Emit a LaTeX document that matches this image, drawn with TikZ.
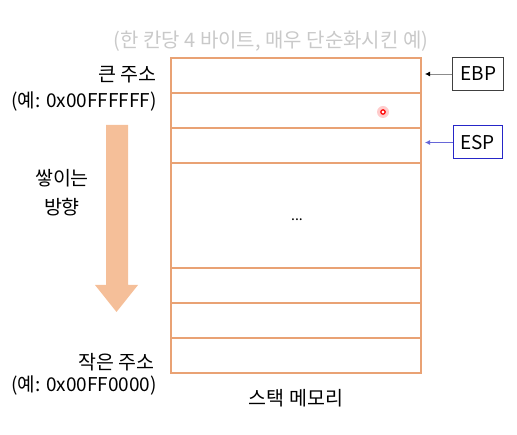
\documentclass[tikz,border=0pt]{standalone}
\usepackage{fontspec}
\setmainfont{Noto Sans CJK KR}
\usepackage{xcolor}
\usetikzlibrary{positioning,arrows.meta}
\definecolor{stk}{HTML}{E9A274}
\definecolor{arw}{HTML}{F5BF99}
\definecolor{ttl}{HTML}{C9C9C9}
\definecolor{espc}{HTML}{2626C8}
\tikzset{
    RC1/.style ={rectangle,minimum width = 250pt, minimum height =35pt, draw=stk, line width=1.4pt, outer sep=0pt, inner sep=0pt},
    RC2/.style ={RC1, minimum height = 105pt},
    RB1/.style ={rectangle,minimum width = 51pt, minimum height =33pt, draw=black!75, line width=1pt, font=\fontsize{19}{22}\selectfont, inner sep=0pt},
    RB2/.style ={RB1, draw=espc},
    TX1/.style ={font=\fontsize{19.5}{22}\selectfont, inner sep=0pt},
    TX2/.style ={TX1, font=\fontsize{19}{22}\selectfont, anchor=east}
}

\begin{document}
\begin{tikzpicture}[x=1pt,y=-1pt]
        \useasboundingbox (0,0) rectangle (517,435);
        \node[TX1, text=ttl, font=\fontsize{20}{22}\selectfont] (title) at (271,41) {(한 칸당 4 바이트, 매우 단순화시킨 예)};
        % stack cells
        \node[RC1] (c1) at (296,75.5) {};
        \node[RC1, below=0pt of c1] (c2) {};
        \node[RC1, below=0pt of c2] (c3) {};
        \node[RC2, below=0pt of c3] (c4) {};
        \node[RC1, below=0pt of c4] (c5) {};
        \node[RC1, below=0pt of c5] (c6) {};
        \node[RC1, below=0pt of c6] (c7) {};
        \node[TX1, font=\fontsize{14}{16}\selectfont] (dots) at (297,220) {...};
        \node[TX1, below=16pt of c7] (stack) {스택 메모리};
        % registers
        \node[RB1] (ebp) at (478.4,74) {EBP};
        \node[RB2, minimum width=49pt] (esp) at (477.5,142.5) {ESP};
        \draw[-{Latex[length=5pt,width=5pt,color=black]}, black!45, thick, shorten >=4pt] (ebp.west) -- (ebp.west -| c1.east);
        \draw[-{Latex[length=5pt,width=5pt]}, espc!70, thick, shorten >=4pt] (esp.west) -- (esp.west -| c3.east);
        % growth direction
        \fill[arw] (106,125) -- (128,125) -- (128,285) -- (138,285) -- (116.5,312) -- (95,285) -- (106,285) -- cycle;
        \node[TX1, align=center, font=\fontsize{19.5}{29}\selectfont] (dir) at (62,193) {쌓이는\\방향};
        \node[TX1, anchor=east] (hi) at (157,75) {큰 주소};
        \node[TX2] (hiaddr) at (157,102) {(예: 0x00FFFFFF)};
        \node[TX1, anchor=east] (lo) at (155,362) {작은 주소};
        \node[TX2] (loaddr) at (157,386) {(예: 0x00FF0000)};
        % pointer
        \fill[red!20] (383,112) circle (6pt);
        \draw[red, line width=1.2pt, fill=white] (383,112) circle (2.2pt);
        \end{tikzpicture}
\end{document}
